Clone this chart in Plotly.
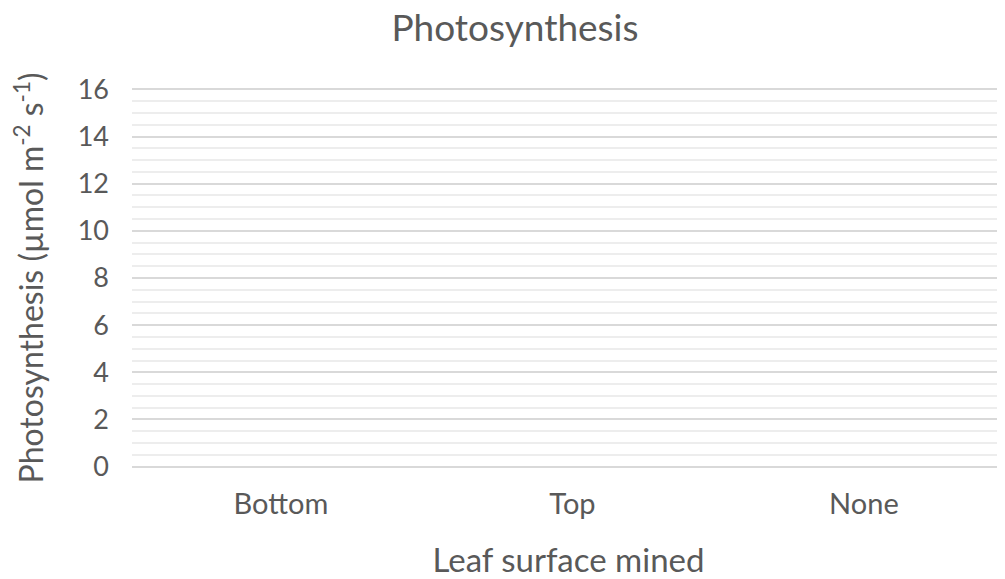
import plotly.graph_objects as go

categories = ["Bottom", "Top", "None"]
photosynthesis = [None, None, None]
y_ticks = [0, 2, 4, 6, 8, 10, 12, 14, 16]

FONT = "Lato"
TXT = "#595959"

# The page body has an 8px default margin, so the figure is sized/positioned to compensate.
W, H = 997, 571

fig = go.Figure(go.Bar(x=categories, y=photosynthesis, marker_color="#4472c4"))

fig.update_layout(
    width=W, height=H,
    margin=dict(l=124, r=0, t=79, b=110, autoexpand=False),
    paper_bgcolor="white", plot_bgcolor="white",
    showlegend=False,
    font=dict(family=FONT, color=TXT),
    title=dict(text="Photosynthesis", x=507 / W, xanchor="center", y=1 - 20 / H, yanchor="middle",
               font=dict(family=FONT, size=37, color=TXT)),
)
fig.update_xaxes(
    type="category", range=[-0.511, 2.484], showgrid=False, zeroline=False, automargin=False,
    showline=False, ticks="", tickfont=dict(size=29, color=TXT), ticklabelstandoff=15,
    title=dict(text="Leaf surface mined", font=dict(size=33, color=TXT), standoff=39),
)
fig.update_yaxes(
    range=[-0.1, 16.1], tickvals=y_ticks, showgrid=True, gridcolor="#d9d9d9", gridwidth=1.5,
    minor=dict(dtick=0.5, showgrid=True, gridcolor="#ededed", gridwidth=1.5),
    zeroline=False, showline=False, ticks="", automargin=False,
    tickfont=dict(size=27, color=TXT), ticklabelstandoff=22,
    title=dict(text="Photosynthesis (µmol m<sup>-2</sup> s<sup>-1</sup>)", font=dict(size=32, color=TXT), standoff=31),
)

fig.write_html("out.html")
